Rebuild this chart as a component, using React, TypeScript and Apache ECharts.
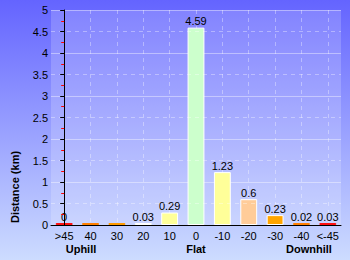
import React, { useEffect, useRef } from "react";
import * as echarts from "echarts";

const categories = [">45", "40", "30", "20", "10", "0", "-10", "-20", "-30", "-40", "<-45"];
const distances = [0, 0, 0, 0.03, 0.29, 4.59, 1.23, 0.6, 0.23, 0.02, 0.03];
const showValue = [true, false, false, true, true, true, true, true, true, true, true];
const barColors = ["#ff1010", "#ff8000", "#ff9a00", "#ffffb0", "#ffff99", "#ccffcc", "#ffff99", "#ffcc99", "#ffa500", "#ffd080", "#ff1010"];
const barBorders = ["#ff1010", "#ff8000", "#ff9a00", "#ffffff", "#ffffff", "#ffffff", "#ffffff", "#ffffff", "#ffffff", "#ff8000", "#ff1010"];
const groupLabels = ["Uphill", "Flat", "Downhill"];
const groupX = [81, 196, 309];
const yMin = 0;
const yMax = 5;
const yStep = 0.5;

export default function App() {
  const ref = useRef<HTMLDivElement>(null);
  useEffect(() => {
    if (!ref.current) return;
    const chart = echarts.init(ref.current, null, { renderer: "svg" });
    const font = "Liberation Sans, Arial, sans-serif";
    const n = categories.length;
    chart.setOption({
      animation: false,
      backgroundColor: {
        type: "linear",
        x: 0,
        y: 0,
        x2: 0,
        y2: 1,
        colorStops: [
          { offset: 0, color: "#6464ff" },
          { offset: 1, color: "#cddcff" },
        ],
      },
      grid: {
        left: 51,
        right: 9,
        top: 10,
        bottom: 35,
        show: true,
        backgroundColor: "rgba(255,255,255,0.18)",
        borderWidth: 0,
      },
      xAxis: [
        {
          type: "category",
          data: categories,
          axisLine: { lineStyle: { color: "#000", width: 1 } },
          axisTick: { alignWithLabel: true, length: 3, lineStyle: { color: "#000" } },
          axisLabel: { color: "#000", fontSize: 11, fontFamily: font, margin: 5, interval: 0 },
          splitLine: { show: false },
          z: 5,
        },
        {
          type: "value",
          min: -0.5,
          max: n - 0.5,
          interval: 0.5,
          position: "bottom",
          axisLine: { show: false },
          axisTick: { show: false },
          axisLabel: { show: false },
          splitLine: {
            show: true,
            lineStyle: { color: ["rgba(255,255,255,0)", "rgba(255,255,255,0.35)"], type: [4, 4], width: 1 },
          },
        },
      ],
      yAxis: [
        {
          type: "value",
          min: yMin,
          max: yMax,
          interval: yStep,
          axisLine: { show: true, lineStyle: { color: "#000", width: 1 } },
          axisTick: { show: true, length: 4, lineStyle: { color: "#000" } },
          minorTick: { show: true, splitNumber: 2, length: 3, lineStyle: { color: "#ff0000" } },
          axisLabel: { color: "#000", fontSize: 11, fontFamily: font, margin: 3 },
          splitLine: {
            show: true,
            lineStyle: { color: ["rgba(255,255,255,0)", "rgba(255,255,255,0.35)"], type: [4, 4], width: 1 },
          },
          z: 5,
        },
        {
          type: "value",
          min: yMin,
          max: yMax,
          interval: 1,
          position: "left",
          axisLine: { show: false },
          axisTick: { show: false },
          axisLabel: { show: false },
          splitLine: { show: true, lineStyle: { color: "rgba(255,255,255,0.4)", width: 1 } },
        },
      ],
      series: [
        {
          type: "bar",
          xAxisIndex: 0,
          yAxisIndex: 0,
          barWidth: "64%",
          barMinHeight: 2,
          z: 3,
          data: distances.map((v, i) => ({
            value: v,
            itemStyle: { color: barColors[i], borderColor: barBorders[i], borderWidth: 1 },
            label: { show: showValue[i] },
          })),
          label: {
            show: true,
            position: "top",
            distance: 1,
            color: "#000",
            fontSize: 11,
            fontFamily: font,
          },
        },
      ],
      graphic: [
        ...groupLabels.map((t, i) => ({
          type: "text",
          x: groupX[i],
          y: 249,
          style: {
            text: t,
            fill: "#000",
            font: `bold 11px ${font}`,
            align: "center",
            verticalAlign: "middle",
          },
        })),
        {
          type: "text",
          x: 15,
          y: 187,
          rotation: Math.PI / 2,
          style: {
            text: "Distance (km)",
            fill: "#000",
            font: `bold 11px ${font}`,
            align: "center",
            verticalAlign: "middle",
          },
        },
      ],
    });
    return () => chart.dispose();
  }, []);
  return <div ref={ref} style={{ width: 350, height: 260, position: "absolute", left: 0, top: 0 }} />;
}
